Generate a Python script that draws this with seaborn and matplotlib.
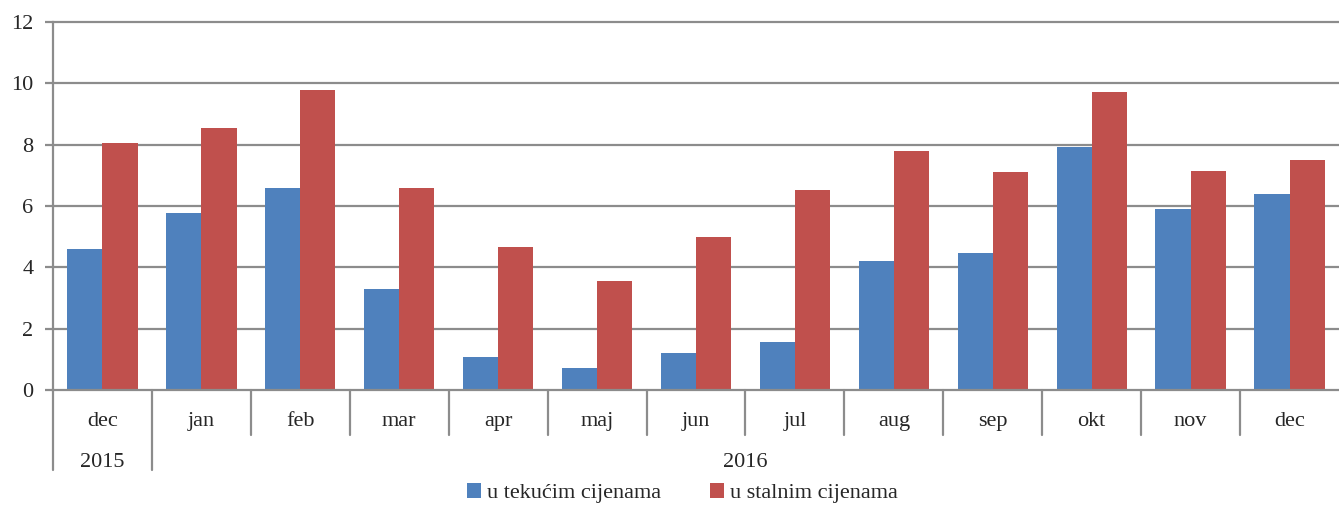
import pandas as pd
import seaborn as sns
import matplotlib.pyplot as plt
import numpy as np

## monthly values
months = ["dec", "jan", "feb", "mar", "apr", "maj", "jun", "jul", "aug", "sep", "okt", "nov", "dec"]
tekucim = [4.6, 5.77, 6.59, 3.29, 1.08, 0.72, 1.2, 1.57, 4.2, 4.47, 7.92, 5.9, 6.39]
stalnim = [8.05, 8.54, 9.78, 6.59, 4.66, 3.55, 4.99, 6.52, 7.79, 7.1, 9.72, 7.14, 7.5]
series = ["u tekućim cijenama", "u stalnim cijenama"]
years = ["2015", "2016"]
yticks = [0, 2, 4, 6, 8, 10, 12]

slot = [f"{i}" for i in range(len(months))]
df = pd.DataFrame({
    "slot": slot * 2,
    "value": tekucim + stalnim,
    "series": [series[0]] * len(months) + [series[1]] * len(months),
})

sns.set_style("white")
plt.rcParams["font.family"] = ["Liberation Serif", "DejaVu Serif"]
fs = 16

fig = plt.figure(figsize=(13.39, 5.05), dpi=100)
ax = fig.add_axes([53 / 1339, 115 / 505, 1 - 53 / 1339, 368 / 505])

grid_c = "#8c8c8c"
for y in yticks[1:]:
    ax.axhline(y, color=grid_c, lw=1.6, zorder=0, clip_on=False)

sns.barplot(data=df, x="slot", y="value", hue="series", order=slot,
            palette=["#4F81BD", "#C0504D"], width=0.71, gap=0,
            linewidth=0, saturation=1, ax=ax, zorder=2)

ax.set_ylim(0, 12)
ax.set_xlim(-0.5, len(months) - 0.5)
ax.set_yticks(yticks)
ax.set_yticklabels([str(v) for v in yticks], fontsize=fs)
ax.set_xticks(range(len(months)))
ax.set_xticklabels(months, fontsize=fs)
ax.tick_params(axis="x", length=0, pad=16)
ax.tick_params(axis="y", length=6, color=grid_c, width=1.6, left=True, pad=8)
ax.set_xlabel("")
ax.set_ylabel("")

for s in ["top", "right"]:
    ax.spines[s].set_visible(False)
for s in ["left", "bottom"]:
    ax.spines[s].set_color(grid_c)
    ax.spines[s].set_linewidth(1.6)

# multi-level category separators
tr = ax.get_xaxis_transform()
for k in range(len(months) - 1):
    low = -0.217 if k == 0 else -0.122
    ax.plot([k + 0.5, k + 0.5], [0, low], transform=tr, color=grid_c, lw=1.6, clip_on=False)
ax.plot([-0.5, -0.5], [0, -0.217], transform=tr, color=grid_c, lw=1.6, clip_on=False)

ax.text(0, -0.196, years[0], transform=tr, ha="center", va="center", fontsize=fs)
ax.text(6.5, -0.196, years[1], transform=tr, ha="center", va="center", fontsize=fs)

handles, labels = ax.get_legend_handles_labels()
ax.get_legend().remove()
fig.legend(handles, labels, loc="center", bbox_to_anchor=(0.51, 0.023), ncol=2,
           frameon=False, fontsize=fs, handlelength=0.6, handleheight=0.6,
           handletextpad=0.3, columnspacing=2.2, borderpad=0)

plt.savefig("out.png", dpi=100)
